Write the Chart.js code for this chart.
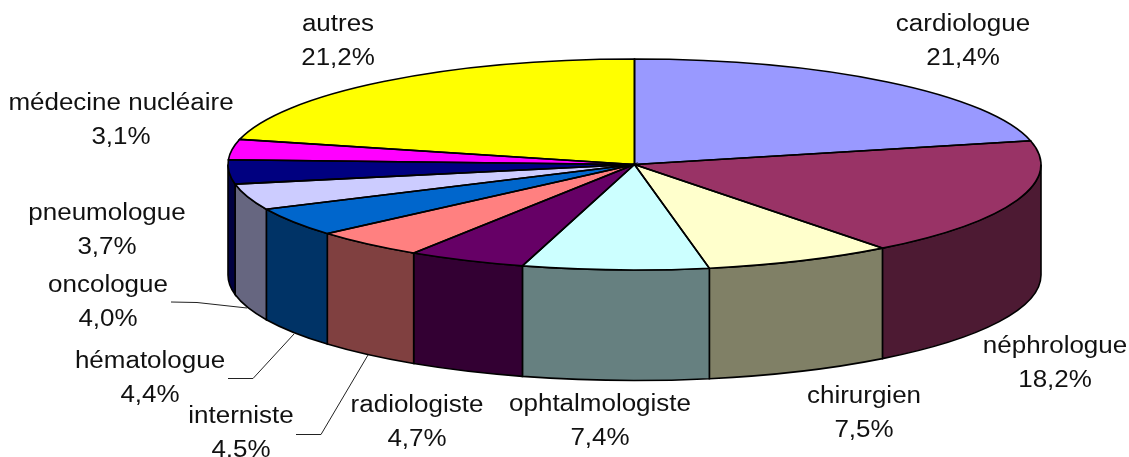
<!DOCTYPE html>
<html><head><meta charset="utf-8">
<style>html,body{margin:0;padding:0;background:#fff}#w{width:1129px;height:457px;position:relative;overflow:hidden}canvas{display:block}</style>
<script src="https://cdn.jsdelivr.net/npm/chart.js@4"></script></head>
<body><div id="w"><canvas id="c" width="1129" height="457"></canvas></div>
<script>
const categories=["cardiologue","néphrologue","chirurgien","ophtalmologiste","radiologiste","interniste","hématologue","oncologue","pneumologue","médecine nucléaire","autres"];
const values=[21.4,18.2,7.5,7.4,4.7,4.5,4.4,4.0,3.7,3.1,21.2];
const valueLabels=["21,4%","18,2%","7,5%","7,4%","4,7%","4,5%","4,4%","4,0%","3,7%","3,1%","21,2%"];
const topColors=["#9999FF","#993366","#FFFFCC","#CCFFFF","#660066","#FF8080","#0066CC","#CCCCFF","#000080","#FF00FF","#FFFF00"];
const sideColors=["#4D4D80","#4D1A33","#808066","#668080","#330033","#804040","#003366","#666680","#000040","#800080","#808000"];
const labelCenters=[[963,42],[1055,364],[864,414],[600,422],[417,423],[241,434],[150,379],[108,303],[107,231],[121,121],[338,42]];
const leaders=[[[171,302],[197,302.5],[247,308]],[[228,378.5],[253,378.5],[294,334]],[[296,434.5],[321,434.5],[368,355]]];
const CX=634.5,CY=164.5,RY=105.5,RX=406.5,DEPTH=110.5;
const SX=RX/RY;
function strokePath(ctx){ctx.strokeStyle="#000";ctx.lineWidth=1.6;ctx.stroke();}
const pie3d={id:"pie3d",
 beforeDatasetsDraw(chart){
  const ctx=chart.ctx,arcs=chart.getDatasetMeta(0).data;
  ctx.save();
  arcs.forEach((a,i)=>{
    const s=Math.max(a.startAngle,0),e=Math.min(a.endAngle,Math.PI);
    if(e<=s)return;
    ctx.beginPath();
    ctx.ellipse(CX,CY,RX,RY,0,s,e);
    ctx.ellipse(CX,CY+DEPTH,RX,RY,0,e,s,true);
    ctx.closePath();
    ctx.fillStyle=sideColors[i];ctx.fill();strokePath(ctx);
  });
  ctx.restore();
  ctx.save();
  ctx.translate(CX,CY);ctx.scale(SX,1);ctx.translate(-CX,-CY);
 },
 afterDatasetsDraw(chart){
  const ctx=chart.ctx,arcs=chart.getDatasetMeta(0).data;
  ctx.restore();
  ctx.save();
  arcs.forEach(a=>{
    ctx.beginPath();
    ctx.moveTo(CX,CY);
    ctx.ellipse(CX,CY,RX,RY,0,a.startAngle,a.endAngle);
    ctx.closePath();
    strokePath(ctx);
  });
  ctx.fillStyle="#111";
  ctx.font='23.5px "Liberation Sans",Arial,sans-serif';
  ctx.textAlign="center";ctx.textBaseline="middle";
  const stretch=1.105;
  categories.forEach((n,i)=>{
    const [x,y]=labelCenters[i];
    ctx.save();ctx.translate(x,y);ctx.scale(stretch,1);
    ctx.fillText(n,0,-17);
    ctx.fillText(valueLabels[i],0,17);
    ctx.restore();
  });
  leaders.forEach(l=>{
    ctx.beginPath();l.forEach((p,j)=>j?ctx.lineTo(p[0],p[1]):ctx.moveTo(p[0],p[1]));
    ctx.strokeStyle="#222";ctx.lineWidth=1;ctx.stroke();
  });
  ctx.restore();
 }};
new Chart(document.getElementById("c"),{type:"pie",
 data:{labels:categories,datasets:[{data:values,backgroundColor:topColors,borderWidth:0,borderColor:"transparent"}]},
 options:{responsive:false,animation:false,rotation:0,
  layout:{padding:{left:140,right:0,top:59,bottom:187}},
  plugins:{legend:{display:false},tooltip:{enabled:false},title:{display:false}}},
 plugins:[pie3d]});
</script></body></html>
